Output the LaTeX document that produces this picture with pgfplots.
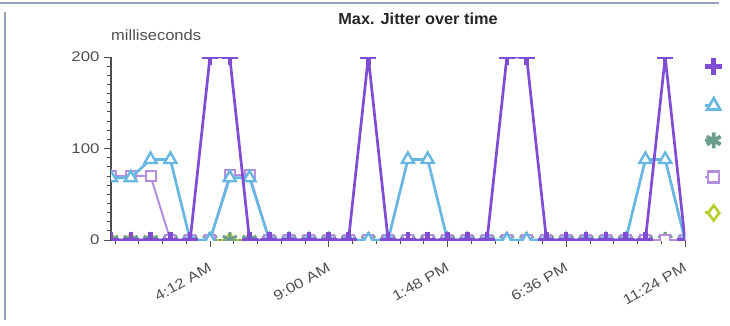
\documentclass[border=0pt]{standalone}
\usepackage{pgfplots}
\pgfplotsset{compat=1.18}
\usepackage{fontspec}
\setmainfont{Liberation Sans}
\definecolor{cP}{RGB}{128,76,212}
\definecolor{cB}{RGB}{104,182,226}
\definecolor{cG}{RGB}{108,158,140}
\definecolor{cL}{RGB}{182,142,222}
\definecolor{cY}{RGB}{184,206,42}
\definecolor{tickgray}{RGB}{80,80,80}
\definecolor{frame}{RGB}{150,162,186}
\newcommand\wide[1]{\scalebox{1.2}[1]{#1}}
\pgfplotstableread{
i P B G L Y
0 0 68 0 70 0
1 0 68 0 70 0
2 0 88 0 70 0
3 0 88 0 0 0
4 0 0 0 0 0
5 200 0 0 0 0
6 200 68 0 71 0
7 0 68 0 71 0
8 0 0 0 0 0
9 0 0 0 0 0
10 0 0 0 0 0
11 0 0 0 0 0
12 0 0 0 0 0
13 200 0 0 0 0
14 0 0 0 0 0
15 0 88 0 0 0
16 0 88 0 0 0
17 0 0 0 0 0
18 0 0 0 0 0
19 0 0 0 0 0
20 200 0 0 0 0
21 200 0 0 0 0
22 0 0 0 0 0
23 0 0 0 0 0
24 0 0 0 0 0
25 0 0 0 0 0
26 0 0 0 0 0
27 0 88 0 0 0
28 200 88 0 0 0
29 0 0 0 0 0
}\jitter
\begin{document}
\begin{tikzpicture}
\path[use as bounding box] (0pt,0pt) rectangle (730pt,-325pt);
\draw[frame, line width=2pt] (0pt,-3pt) -- (719pt,-3pt);
\draw[frame, line width=2pt] (5pt,-12pt) -- (5pt,-320pt);
\node[font=\bfseries\fontsize{16}{18}\selectfont, text=black!85] at (418pt,-19pt) {\scalebox{1.02}[1]{Max. Jitter over time}};
\node[anchor=west, inner sep=0pt, font=\fontsize{15}{17}\selectfont, text=tickgray] at (111pt,-35pt) {\scalebox{1.1}[1]{milliseconds}};
\begin{axis}[
  at={(111pt,-240pt)}, anchor=south west,
  scale only axis, width=574pt, height=183pt,
  xmin=0, xmax=29, ymin=0, ymax=200,
  axis lines*=left,
  x axis line style={black, line width=1.6pt},
  y axis line style={black!70, line width=1.2pt},
  tick align=outside,
  major tick length=7pt, minor tick length=4pt,
  every tick/.style={black!70, line width=0.9pt},
  xtick={5,11,17,23,29},
  xticklabels={\wide{4:12 AM}, \wide{9:00 AM}, \wide{1:48 PM}, \wide{6:36 PM}, \wide{11:24 PM}},
  minor xtick={0.2,1.4,2.6,3.8,6.2,7.4,8.6,9.8,12.2,13.4,14.6,15.8,18.2,19.4,20.6,21.8,24.2,25.4,26.6,27.8},
  ytick={0,100,200},
  yticklabels={\wide{0},\wide{100},\wide{200}},
  minor y tick num=9,
  tick label style={font=\fontsize{14}{16}\selectfont, text=tickgray},
  yticklabel style={xshift=-1pt},
  xticklabel style={xshift=-2pt, yshift=-13.5pt, rotate=30, anchor=north east, inner sep=1pt},
  clip marker paths=true,
  legend style={at={(1,1)}, anchor=north west, xshift=18pt, yshift=-1pt, draw=none, fill=none,
    row sep=23pt, inner sep=0pt, nodes={inner sep=0pt}},
  legend image code/.code={\draw[mark repeat=2,mark phase=2] plot coordinates {(0pt,0pt)(9pt,0pt)(12pt,0pt)};},
  legend cell align=left,
]
\addlegendimage{cP, line width=3pt, mark=+, mark size=8.5pt, mark options={line width=5pt}}
\addlegendentry{}
\addlegendimage{cB, line width=3pt, mark=triangle*, mark size=7.5pt, mark options={fill=white, line width=2.6pt}}
\addlegendentry{}
\addlegendimage{cG, line width=3pt, mark=asterisk, mark size=8pt, mark options={line width=3.8pt}}
\addlegendentry{}
\addlegendimage{cL, line width=2.5pt, mark=square*, mark size=5.5pt, mark options={fill=white, line width=2.4pt}}
\addlegendentry{}
\addlegendimage{cY, line width=3pt, mark=diamond*, mark size=7.5pt, mark options={fill=white, line width=2.6pt}}
\addlegendentry{}
\addplot[forget plot, cY, line width=2pt, mark=diamond*, mark size=7pt, mark options={fill=white, line width=2pt}] table[x=i, y=Y] {\jitter};
\addplot[forget plot, cG!80!gray, line width=2pt, dotted, mark=asterisk, mark size=8pt, mark options={cG, solid, line width=3pt}] table[x=i, y=G] {\jitter};
\addplot[forget plot, cL, line width=2pt, mark=square*, mark size=5pt, mark options={fill=white, line width=2pt}] table[x=i, y=L] {\jitter};
\addplot[forget plot, cB, line width=2.7pt, mark=triangle*, mark size=7pt, mark options={fill=white, line width=2.4pt}] table[x=i, y=B] {\jitter};
\addplot[forget plot, cP, line width=2.7pt, mark=+, mark size=8pt, mark options={line width=4.5pt}] table[x=i, y=P] {\jitter};
\end{axis}
\end{tikzpicture}
\end{document}
